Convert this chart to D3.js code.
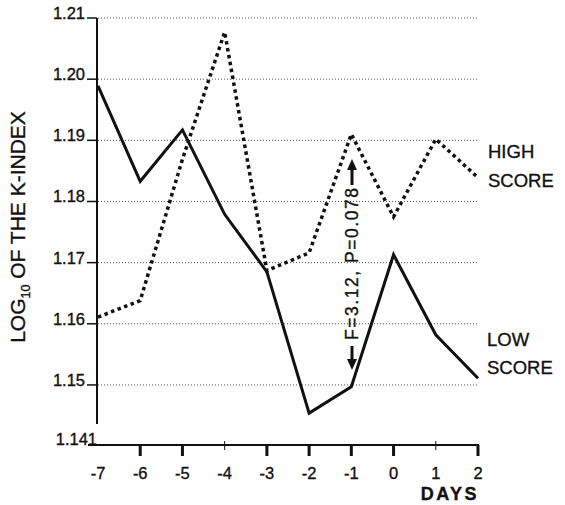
<!DOCTYPE html>
<html>
<head>
<meta charset="utf-8">
<script src="https://cdn.jsdelivr.net/npm/d3@7"></script>
<style>
  body { margin: 0; background: #fff; }
  text { font-family: "Liberation Sans", Arial, sans-serif; fill: #111; stroke: #111; stroke-width: 0.35px; }
</style>
</head>
<body>
<div id="chart"></div>
<script>
const days = [-7, -6, -5, -4, -3, -2, -1, 0, 1, 2];
const lowScore = [1.1989, 1.1833, 1.1917, 1.1779, 1.1685, 1.1454, 1.1497, 1.1713, 1.1582, 1.1511];
const highScore = [1.1611, 1.1638, 1.1869, 1.2077, 1.1687, 1.1716, 1.1910, 1.1775, 1.1902, 1.1839];
const yTicks = [1.15, 1.16, 1.17, 1.18, 1.19, 1.20, 1.21];
const thinTicks = [-4, 1];

const svg = d3.select("#chart").append("svg")
    .attr("width", 565)
    .attr("height", 505);

const x = d3.scaleLinear().domain([-7, 2]).range([98, 478]);
const y = d3.scaleLinear().domain([1.141, 1.21]).range([440, 18]);

// dotted gridlines
svg.append("g")
    .selectAll("line")
    .data(yTicks)
    .join("line")
    .attr("x1", 98).attr("x2", 478)
    .attr("y1", d => y(d)).attr("y2", d => y(d))
    .attr("stroke", "#555")
    .attr("stroke-width", 1)
    .attr("stroke-dasharray", "1,2");

// y ticks + labels
svg.append("g")
    .selectAll("line")
    .data(yTicks)
    .join("line")
    .attr("x1", 87).attr("x2", 97)
    .attr("y1", d => y(d)).attr("y2", d => y(d))
    .attr("stroke", "#111")
    .attr("stroke-width", 1.5);

svg.append("g")
    .selectAll("text")
    .data(yTicks)
    .join("text")
    .attr("x", 85)
    .attr("y", d => y(d) + 1)
    .attr("text-anchor", "end")
    .attr("font-size", 16.5)
    .text(d => d.toFixed(2));

svg.append("text")
    .attr("x", 97)
    .attr("y", 445)
    .attr("text-anchor", "end")
    .attr("font-size", 16.5)
    .text("1.141");

// axes lines
svg.append("line")
    .attr("x1", 97).attr("x2", 97)
    .attr("y1", y(1.21)).attr("y2", 424)
    .attr("stroke", "#111").attr("stroke-width", 2);

svg.append("line")
    .attr("x1", 88).attr("x2", 479)
    .attr("y1", 445).attr("y2", 445)
    .attr("stroke", "#111").attr("stroke-width", 2);

// x ticks
svg.append("g")
    .selectAll("line")
    .data(days.filter(d => d !== -7))
    .join("line")
    .attr("x1", d => x(d)).attr("x2", d => x(d))
    .attr("y1", d => thinTicks.includes(d) ? 441 : 445)
    .attr("y2", d => thinTicks.includes(d) ? 450 : 456)
    .attr("stroke", "#111")
    .attr("stroke-width", d => thinTicks.includes(d) ? 1 : 3);

svg.append("g")
    .selectAll("text")
    .data(days)
    .join("text")
    .attr("x", d => x(d))
    .attr("y", 479)
    .attr("text-anchor", "middle")
    .attr("font-size", 16.5)
    .text(d => d);

svg.append("text")
    .attr("x", 479)
    .attr("y", 500)
    .attr("text-anchor", "end")
    .attr("font-size", 18)
    .attr("font-weight", "bold")
    .attr("letter-spacing", 2.5)
    .text("DAYS");

// y title
const yt = svg.append("text")
    .attr("transform", "translate(25,227) rotate(-90)")
    .attr("text-anchor", "middle")
    .attr("font-size", 21);
yt.append("tspan").text("LOG");
yt.append("tspan").attr("font-size", 12.5).attr("dy", 5).text("10");
yt.append("tspan").attr("dy", -5).text(" OF THE K-INDEX");

// lines
const line = d3.line()
    .x((d, i) => x(days[i]))
    .y(d => y(d));

svg.append("path")
    .datum(highScore)
    .attr("d", line)
    .attr("fill", "none")
    .attr("stroke", "#111")
    .attr("stroke-width", 3.5)
    .attr("stroke-dasharray", "3.5,3.5");

svg.append("path")
    .datum(lowScore)
    .attr("d", line)
    .attr("fill", "none")
    .attr("stroke", "#111")
    .attr("stroke-width", 3)
    .attr("stroke-linejoin", "miter");

// series labels
svg.append("text").attr("x", 488).attr("y", 158).attr("font-size", 18.5).text("HIGH");
svg.append("text").attr("x", 488).attr("y", 187).attr("font-size", 18.5).text("SCORE");
svg.append("text").attr("x", 487).attr("y", 346).attr("font-size", 18.5).text("LOW");
svg.append("text").attr("x", 487).attr("y", 374).attr("font-size", 18.5).text("SCORE");

// annotation
svg.append("text")
    .attr("transform", "translate(358,264) rotate(-90)")
    .attr("text-anchor", "middle")
    .attr("font-size", 17.5)
    .attr("textLength", 152)
    .text("F=3.12, P=0.078");

const ax = 352;
svg.append("line")
    .attr("x1", ax).attr("x2", ax).attr("y1", 185).attr("y2", 168)
    .attr("stroke", "#111").attr("stroke-width", 3);
svg.append("path")
    .attr("d", `M${ax - 5},170 L${ax},159 L${ax + 5},170 Z`)
    .attr("fill", "#111");
svg.append("line")
    .attr("x1", ax).attr("x2", ax).attr("y1", 346).attr("y2", 362)
    .attr("stroke", "#111").attr("stroke-width", 3);
svg.append("path")
    .attr("d", `M${ax - 5},359 L${ax},370 L${ax + 5},359 Z`)
    .attr("fill", "#111");
</script>
</body>
</html>
